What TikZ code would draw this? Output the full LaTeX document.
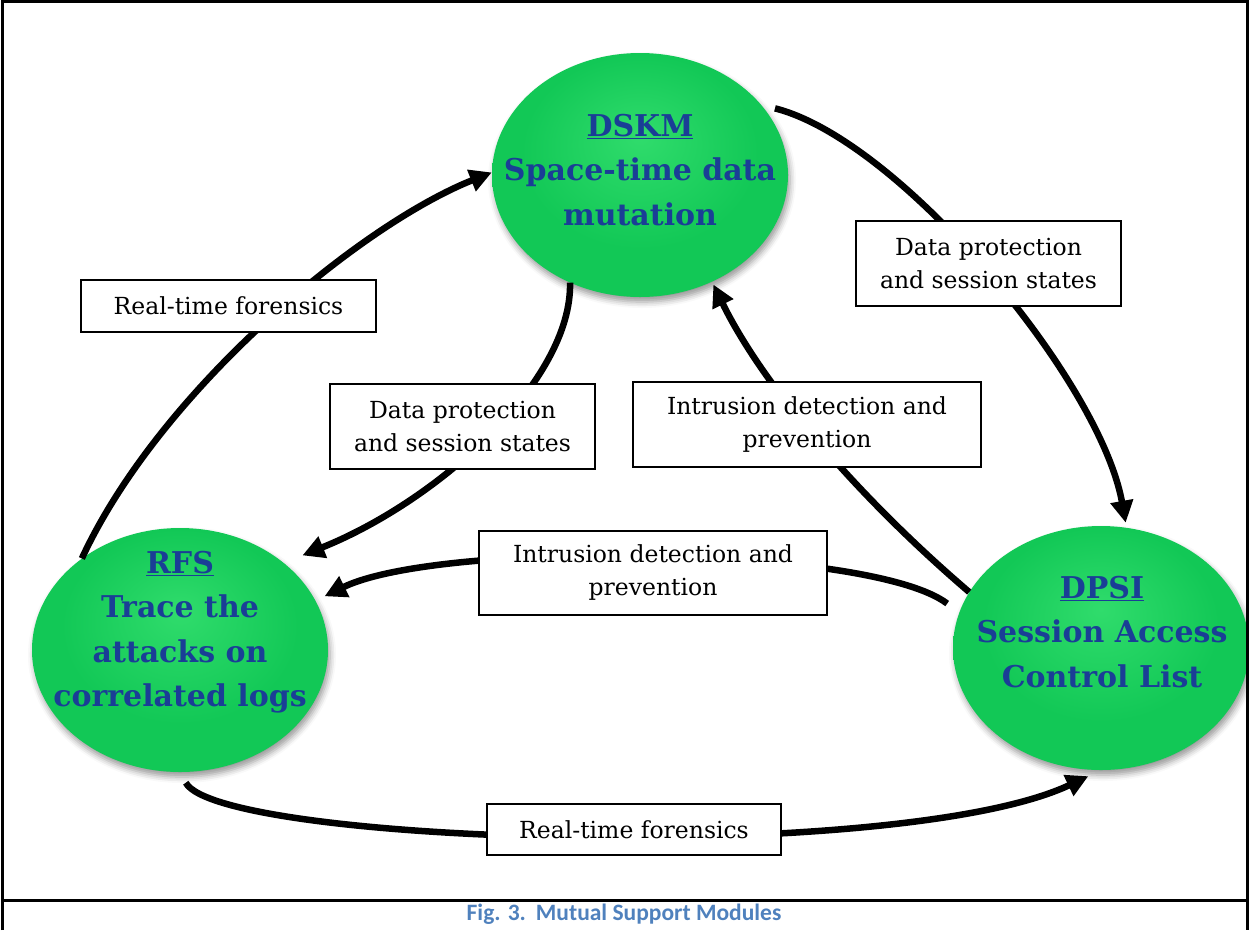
\documentclass[tikz,border=0pt]{standalone}
\usepackage{fontspec}
\setmainfont{DejaVu Serif}
\newfontfamily\capfont{Carlito}
\usetikzlibrary{arrows.meta,shapes.geometric,shadows.blur}

\definecolor{modblue}{RGB}{26,62,150}
\definecolor{capblue}{RGB}{79,129,189}
\definecolor{gLight}{RGB}{48,220,108}
\definecolor{gMain}{RGB}{18,200,86}
\definecolor{gEdge}{RGB}{18,150,64}

% soft ball-like green fill for the module ellipses
\pgfdeclareradialshading{modgreen}{\pgfpoint{0bp}{8bp}}{%
  color(0bp)=(gLight); color(20bp)=(gMain); color(42bp)=(gMain); color(50bp)=(gEdge)}

\tikzset{
  module/.style={ellipse, minimum width=296pt, minimum height=244pt, inner sep=0pt,
    shading=modgreen,
    blur shadow={shadow xshift=2pt, shadow yshift=-5pt, shadow blur radius=6pt, shadow opacity=40}},
  modtext/.style={align=center, text=modblue, font=\fontsize{30}{44.5}\selectfont\bfseries},
  tag/.style={draw=black, line width=2pt, fill=white, align=center, inner sep=0pt,
    font=\fontsize{23.5}{33}\selectfont},
  link/.style={line width=6.5pt, -{Triangle[length=22pt,width=22pt]}},
  frameline/.style={line width=3pt}
}

\begin{document}
\begin{tikzpicture}[x=1pt,y=-1pt]
\useasboundingbox (0,0) rectangle (1249,930);

% the three modules
\node[module] (dskm) at (640,175) {};
\node[module] (rfs)  at (180,650) {};
\node[module] (dpsi) at (1101,648) {};

\node[modtext] (dskmtxt) at (640,170) {\underline{DSKM}\\Space-time data\\mutation};
\node[modtext] (rfstxt)  at (180,632) {\underline{RFS}\\Trace the\\attacks on\\correlated logs};
\node[modtext] (dpsitxt) at (1102,632) {\underline{DPSI}\\Session Access\\Control List};

% connectors between the modules
\draw[link] (rfs.137) .. controls (160,390) and (360,225) .. (dskm.179);
\draw[link, shorten <=14pt, shorten >=5pt] (dskm.30) .. controls (900,140) and (1100,380) .. (dpsi.78);
\draw[link, shorten >=20pt] (dskm.237) .. controls (572,380) and (440,500) .. (rfs.40);
\draw[link, shorten >=3pt] (dpsi.157) .. controls (850,490) and (760,380) .. (dskm.304);
\draw[link, shorten <=15pt, shorten >=10pt] (dpsi.166) .. controls (870,545) and (440,540) .. (rfs.20);
\draw[link, shorten <=12pt, shorten >=14pt] (rfs.270) .. controls (220,845) and (900,865) .. (dpsi.270);

% connector labels
\node[tag, minimum width=295pt, minimum height=52pt] (l1) at (228.5,306) {Real-time forensics};
\node[tag, minimum width=265pt, minimum height=85pt] (l2) at (462.5,426.5) {Data protection\\and session states};
\node[tag, minimum width=348pt, minimum height=85pt] (l3) at (807,424.5) {Intrusion detection and\\prevention};
\node[tag, minimum width=265pt, minimum height=85pt] (l4) at (988.5,263.5) {Data protection\\and session states};
\node[tag, minimum width=348pt, minimum height=84pt] (l5) at (653,573) {Intrusion detection and\\prevention};
\node[tag, minimum width=294pt, minimum height=51pt] (l6) at (634,829.5) {Real-time forensics};

% figure frame and caption
\draw[frameline] (2.5,930) -- (2.5,1.5) -- (1247.5,1.5) -- (1247.5,930);
\draw[frameline] (1,900) -- (1249,900);
\node[text=capblue, font=\capfont\bfseries\fontsize{23.5}{27}\selectfont] (cap) at (624,914.5)
  {Fig. 3.\hspace{10pt}Mutual Support Modules};
\end{tikzpicture}
\end{document}
